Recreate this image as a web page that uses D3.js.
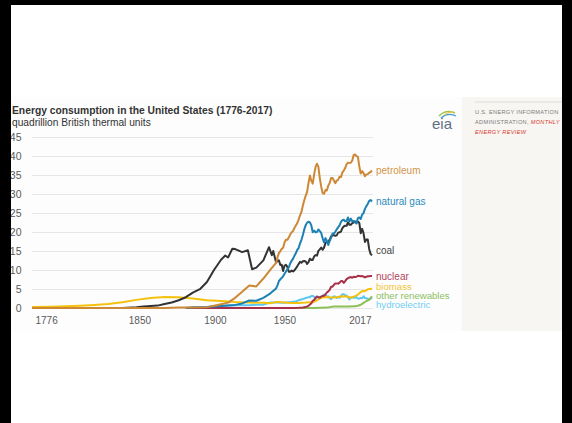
<!DOCTYPE html>
<html>
<head>
<meta charset="utf-8">
<script src="https://cdn.jsdelivr.net/npm/d3@7"></script>
<style>
  html, body { margin: 0; padding: 0; background: #ffffff; }
  svg { display: block; }
  text { font-family: "Liberation Sans", Arial, sans-serif; }
</style>
</head>
<body>
<svg id="chart" width="572" height="423"></svg>
<script>
// U.S. energy consumption by source, quadrillion Btu, [year, value]
const petroleum = [
  [1776,0],[1859,0],[1870,0.01],[1880,0.1],[1890,0.16],[1900,0.23],[1905,0.61],[1910,1.01],
  [1915,1.42],[1920,2.68],[1925,4.28],[1930,5.9],[1935,5.68],[1940,7.76],[1945,10.11],
  [1949,11.88],[1950,13.32],[1951,14.43],[1952,14.96],[1953,15.56],[1954,15.84],[1955,17.25],
  [1956,17.94],[1957,17.93],[1958,18.53],[1959,19.32],[1960,19.92],[1961,20.22],[1962,21.05],
  [1963,21.7],[1964,22.3],[1965,23.25],[1966,24.4],[1967,25.28],[1968,26.98],[1969,28.34],
  [1970,29.52],[1971,30.56],[1972,32.95],[1973,34.84],[1974,33.45],[1975,32.73],[1976,35.17],
  [1977,37.12],[1978,37.97],[1979,37.12],[1980,34.2],[1981,31.93],[1982,30.23],[1983,30.05],
  [1984,31.05],[1985,30.92],[1986,32.2],[1987,32.87],[1988,34.22],[1989,34.21],[1990,33.55],
  [1991,32.85],[1992,33.53],[1993,33.74],[1994,34.56],[1995,34.44],[1996,35.68],[1997,36.16],
  [1998,36.82],[1999,37.84],[2000,38.26],[2001,38.19],[2002,38.22],[2003,38.81],[2004,40.29],
  [2005,40.39],[2006,39.96],[2007,39.77],[2008,37.28],[2009,35.4],[2010,36.01],[2011,35.49],
  [2012,34.67],[2013,35.15],[2014,35.23],[2015,35.58],[2016,35.81],[2017,36.17]
];

const naturalGas = [
  [1885,0],[1890,0.2],[1900,0.25],[1905,0.37],[1910,0.54],[1915,0.67],[1920,0.82],[1925,1.21],
  [1930,1.97],[1935,1.92],[1940,2.67],[1945,3.87],[1949,5.15],[1950,5.97],[1951,7.05],
  [1952,7.55],[1953,7.91],[1954,8.33],[1955,9.0],[1956,9.61],[1957,10.19],[1958,10.66],
  [1959,11.72],[1960,12.39],[1961,12.93],[1962,13.73],[1963,14.4],[1964,15.29],[1965,15.77],
  [1966,17.0],[1967,17.95],[1968,19.21],[1969,20.68],[1970,21.8],[1971,22.47],[1972,22.7],
  [1973,22.51],[1974,21.73],[1975,19.95],[1976,20.35],[1977,19.93],[1978,20.0],[1979,20.67],
  [1980,20.24],[1981,19.75],[1982,18.36],[1983,17.22],[1984,18.39],[1985,17.7],[1986,16.59],
  [1987,17.64],[1988,18.45],[1989,19.6],[1990,19.6],[1991,20.03],[1992,20.71],[1993,21.23],
  [1994,21.73],[1995,22.67],[1996,23.09],[1997,23.22],[1998,22.83],[1999,22.91],[2000,23.82],
  [2001,22.77],[2002,23.51],[2003,22.83],[2004,22.92],[2005,22.57],[2006,22.24],[2007,23.66],
  [2008,23.84],[2009,23.42],[2010,24.58],[2011,24.96],[2012,26.09],[2013,26.81],[2014,27.38],
  [2015,28.19],[2016,28.4],[2017,28.03]
];

const coal = [
  [1840,0],[1850,0.22],[1855,0.42],[1860,0.52],[1865,0.63],[1870,1.05],[1875,1.44],[1880,2.05],
  [1885,2.84],[1890,4.06],[1895,4.95],[1900,6.84],[1905,10.0],[1910,12.71],[1913,13.8],
  [1915,13.29],[1918,15.6],[1920,15.5],[1925,14.71],[1929,15.2],[1932,10.2],[1935,10.63],
  [1940,12.54],[1944,16.0],[1946,13.9],[1947,15.0],[1949,11.98],[1950,12.35],[1951,12.55],
  [1952,11.31],[1953,11.37],[1954,9.72],[1955,11.17],[1956,11.35],[1957,10.82],[1958,9.53],
  [1959,9.52],[1960,9.84],[1961,9.62],[1962,9.91],[1963,10.41],[1964,10.96],[1965,11.58],
  [1966,12.14],[1967,11.91],[1968,12.33],[1969,12.38],[1970,12.27],[1971,11.6],[1972,12.08],
  [1973,12.97],[1974,12.66],[1975,12.66],[1976,13.58],[1977,13.92],[1978,13.77],[1979,15.04],
  [1980,15.42],[1981,15.91],[1982,15.32],[1983,15.89],[1984,17.07],[1985,17.48],[1986,17.26],
  [1987,18.01],[1988,18.85],[1989,19.07],[1990,19.17],[1991,18.99],[1992,19.12],[1993,19.84],
  [1994,19.91],[1995,20.09],[1996,21.0],[1997,21.45],[1998,21.66],[1999,21.62],[2000,22.58],
  [2001,21.91],[2002,21.9],[2003,22.32],[2004,22.47],[2005,22.8],[2006,22.45],[2007,22.75],
  [2008,22.39],[2009,19.69],[2010,20.83],[2011,19.66],[2012,17.38],[2013,18.04],[2014,18.0],
  [2015,15.55],[2016,14.23],[2017,13.84]
];

const nuclear = [
  [1885,0],[1957,0],[1960,0.01],[1965,0.04],[1968,0.14],[1970,0.24],[1971,0.41],[1972,0.58],
  [1973,0.91],[1974,1.27],[1975,1.9],[1976,2.11],[1977,2.7],[1978,3.02],[1979,2.78],[1980,2.74],
  [1981,3.01],[1982,3.13],[1983,3.2],[1984,3.55],[1985,4.08],[1986,4.38],[1987,4.75],[1988,5.59],
  [1989,5.6],[1990,6.1],[1991,6.42],[1992,6.48],[1993,6.41],[1994,6.69],[1995,7.08],[1996,7.09],
  [1997,6.6],[1998,7.07],[1999,7.61],[2000,7.86],[2001,8.03],[2002,8.15],[2003,7.96],[2004,8.22],
  [2005,8.16],[2006,8.22],[2007,8.46],[2008,8.43],[2009,8.36],[2010,8.43],[2011,8.27],[2012,8.06],
  [2013,8.24],[2014,8.34],[2015,8.34],[2016,8.43],[2017,8.42]
];

const biomass = [
  [1776,0.25],[1790,0.33],[1800,0.45],[1810,0.58],[1820,0.78],[1830,1.05],[1840,1.5],[1850,2.14],
  [1860,2.64],[1870,2.89],[1880,2.85],[1890,2.52],[1900,2.02],[1910,1.86],[1920,1.61],[1930,1.46],
  [1940,1.36],[1945,1.26],[1949,1.55],[1950,1.56],[1955,1.42],[1960,1.32],[1965,1.34],[1970,1.43],
  [1973,1.53],[1975,1.5],[1978,2.04],[1980,2.48],[1982,2.8],[1985,2.9],[1987,2.8],[1990,2.74],
  [1993,2.9],[1995,3.1],[1997,3.0],[2000,3.01],[2002,2.7],[2005,3.11],[2007,3.5],[2008,3.85],
  [2010,4.5],[2012,4.4],[2014,4.9],[2015,4.98],[2017,5.08]
];

const otherRenewables = [
  [1949,0],[1960,0],[1970,0.01],[1975,0.03],[1980,0.05],[1985,0.1],[1990,0.4],[1995,0.39],
  [2000,0.4],[2005,0.43],[2006,0.5],[2007,0.56],[2008,0.73],[2009,0.87],[2010,1.09],[2011,1.38],
  [2012,1.56],[2013,1.84],[2014,2.04],[2015,2.17],[2016,2.63],[2017,3.06]
];

const hydroelectric = [
  [1885,0],[1890,0.02],[1895,0.1],[1900,0.25],[1905,0.39],[1910,0.54],[1915,0.66],[1920,0.74],
  [1925,0.7],[1930,0.75],[1935,0.83],[1940,0.88],[1945,1.44],[1949,1.42],[1950,1.42],[1955,1.36],
  [1960,1.61],[1963,1.7],[1965,2.06],[1968,2.35],[1970,2.63],[1972,2.86],[1973,2.86],[1974,3.18],
  [1975,3.15],[1976,2.98],[1977,2.33],[1978,2.94],[1979,2.93],[1980,2.9],[1981,2.76],[1982,3.27],
  [1983,3.53],[1984,3.39],[1985,2.97],[1986,3.07],[1987,2.63],[1988,2.33],[1989,2.84],[1990,3.05],
  [1991,3.02],[1992,2.62],[1993,2.89],[1994,2.68],[1995,3.21],[1996,3.59],[1997,3.64],[1998,3.3],
  [1999,3.27],[2000,2.81],[2001,2.24],[2002,2.69],[2003,2.83],[2004,2.69],[2005,2.7],[2006,2.87],
  [2007,2.45],[2008,2.51],[2009,2.67],[2010,2.54],[2011,3.1],[2012,2.63],[2013,2.56],[2014,2.47],
  [2015,2.32],[2016,2.47],[2017,2.77]
];

const seriesNames = ["petroleum", "natural gas", "coal", "nuclear", "biomass", "other renewables", "hydroelectric"];
const yTicks = [0, 5, 10, 15, 20, 25, 30, 35, 40, 45];
const xTicks = [1776, 1850, 1900, 1950, 2017];
const titleText = "Energy consumption in the United States (1776-2017)";
const unitText = "quadrillion British thermal units";
const sourceLines = ["U.S. ENERGY INFORMATION", "ADMINISTRATION, ", "MONTHLY", "ENERGY REVIEW"];

// Drawing ------------------------------------------------------------
const svg = d3.select("#chart");

const series = [
  { name: seriesNames[6], data: hydroelectric,   color: "#5cc6f2", label: "#72cdf2", nudge: 7,    size: 9.6 },
  { name: seriesNames[5], data: otherRenewables, color: "#8cbf55", label: "#8dbd63", nudge: -0.5, size: 9.6 },
  { name: seriesNames[4], data: biomass,         color: "#f4c20d", label: "#f3c535", nudge: -2,   size: 9.6 },
  { name: seriesNames[3], data: nuclear,         color: "#a93049", label: "#b2455e", nudge: 0,    size: 10 },
  { name: seriesNames[2], data: coal,            color: "#333333", label: "#444444", nudge: -5,   size: 10 },
  { name: seriesNames[1], data: naturalGas,      color: "#1b80b4", label: "#2a8bbd", nudge: 0,    size: 10 },
  { name: seriesNames[0], data: petroleum,       color: "#cc8834", label: "#d4954a", nudge: 0,    size: 10 }
];

// Panels
svg.append("rect").attr("x", 11).attr("y", 97).attr("width", 451).attr("height", 234).attr("fill", "#fdfdfd");
svg.append("rect").attr("x", 462).attr("y", 97).attr("width", 100).attr("height", 234).attr("fill", "#f8f6f2");

const x = d3.scaleLinear().domain([1776, 2017]).range([32, 372]);
const y = d3.scaleLinear().domain([0, 45]).range([308, 137]);

// Gridlines + y labels
const yAxis = d3.axisLeft(y).tickValues(yTicks).tickSize(-341).tickPadding(10).tickFormat(d3.format("d"));
const gy = svg.append("g").attr("transform", "translate(32,0)").call(yAxis);
gy.select(".domain").remove();
gy.selectAll(".tick line").attr("stroke", "#e6e6e6").attr("x1", 0).attr("x2", 341);
gy.selectAll(".tick text").attr("fill", "#5a5a5a").attr("font-size", 10.5).attr("x", -10.5);

// x labels
const xAxis = d3.axisBottom(x).tickValues(xTicks).tickSize(0).tickPadding(9).tickFormat(d3.format("d"));
const gx = svg.append("g").attr("transform", "translate(0,308)").call(xAxis);
gx.select(".domain").remove();
const xShift = { 1776: 3, 1850: 3, 1900: 8, 1950: 7, 2017: -1 };
gx.selectAll(".tick text")
  .attr("fill", "#5a5a5a").attr("font-size", 10)
  .attr("text-anchor", d => d === 1776 ? "start" : d === 2017 ? "end" : "middle")
  .attr("dx", d => xShift[d]);

// Lines
const line = d3.line().x(d => x(d[0])).y(d => y(d[1]));
svg.append("g").selectAll("path").data(series).join("path")
  .attr("d", d => line(d.data))
  .attr("fill", "none")
  .attr("stroke", d => d.color)
  .attr("stroke-width", 2)
  .attr("stroke-linejoin", "round");

// End labels
svg.append("g").selectAll("text").data(series).join("text")
  .attr("x", x(2017) + 4)
  .attr("y", d => y(d.data[d.data.length - 1][1]) + d.nudge)
  .attr("dy", "0.35em")
  .attr("font-size", d => d.size)
  .attr("fill", d => d.label)
  .text(d => d.name);

// Title
svg.append("text").attr("x", 12).attr("y", 113.5).attr("font-size", 10.3).attr("font-weight", "bold")
  .attr("fill", "#333").text(titleText);
svg.append("text").attr("x", 12).attr("y", 126).attr("font-size", 10.2)
  .attr("fill", "#333").text(unitText);

// eia mark
const logo = svg.append("g");
logo.append("text").attr("x", 432).attr("y", 129).attr("font-family", "'Liberation Serif', serif")
  .attr("font-size", 15).attr("fill", "#5e7080").text("eia");
logo.append("path").attr("d", "M439,116 Q446,109 455,113").attr("fill", "none").attr("stroke", "#9cc54b").attr("stroke-width", 1.6);
logo.append("path").attr("d", "M441,118 Q448,112 456,116").attr("fill", "none").attr("stroke", "#3f9bd0").attr("stroke-width", 1.3);
logo.append("path").attr("d", "M444,115 Q449,111 454,112").attr("fill", "none").attr("stroke", "#f0c030").attr("stroke-width", 1);

// Source block
svg.append("line").attr("x1", 475).attr("x2", 562).attr("y1", 102).attr("y2", 102).attr("stroke", "#dcdcdc");
const src = svg.append("g").attr("font-size", 5.6).attr("letter-spacing", 0.32);
src.append("text").attr("x", 475).attr("y", 114).attr("fill", "#7a7a7a").text(sourceLines[0]);
const l2 = src.append("text").attr("x", 475).attr("y", 124).attr("fill", "#7a7a7a");
l2.append("tspan").text(sourceLines[1]);
l2.append("tspan").attr("fill", "#d8392e").attr("font-style", "italic").text(sourceLines[2]);
src.append("text").attr("x", 475).attr("y", 134).attr("fill", "#d8392e").attr("font-style", "italic").text(sourceLines[3]);

// Frame
svg.append("rect").attr("x", 0).attr("y", 0).attr("width", 11).attr("height", 423).attr("fill", "#000");
svg.append("rect").attr("x", 0).attr("y", 0).attr("width", 572).attr("height", 5).attr("fill", "#000");
svg.append("rect").attr("x", 562).attr("y", 0).attr("width", 10).attr("height", 423).attr("fill", "#000");
</script>
</body>
</html>
